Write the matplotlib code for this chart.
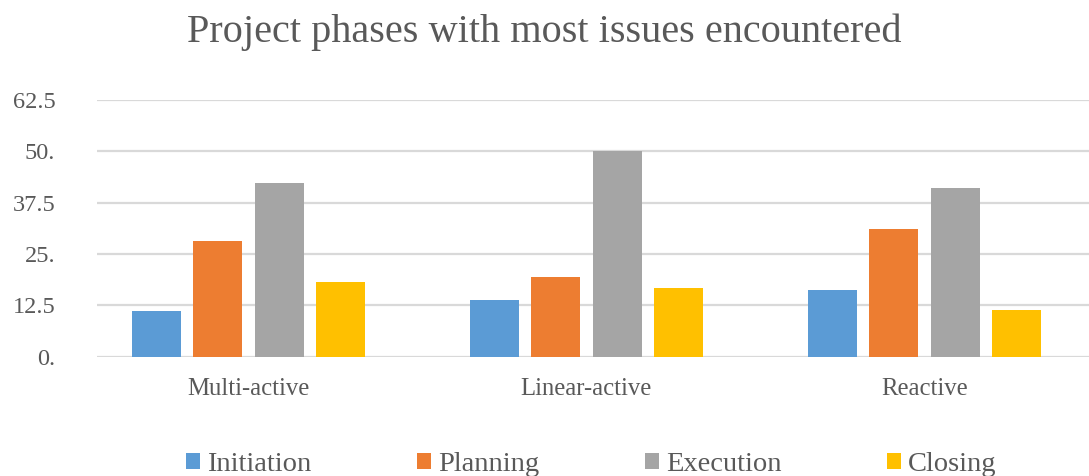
import numpy as np
import matplotlib.pyplot as plt

# Data
groups = ["Multi-active", "Linear-active", "Reactive"]
phases = ["Initiation", "Planning", "Execution", "Closing"]
initiation = [11.2, 13.8, 16.3]
planning = [28.2, 19.4, 31.2]
execution = [42.4, 50.0, 41.0]
closing = [18.3, 16.7, 11.4]
series = [initiation, planning, execution, closing]
colors = ["#5b9bd5", "#ed7d31", "#a5a5a5", "#ffc000"]

yticks = [0, 12.5, 25, 37.5, 50, 62.5]
ytick_labels = ["0.", "12.5", "25.", "37.5", "50.", "62.5"]

plt.rcParams["font.family"] = ["Liberation Serif", "DejaVu Serif"]
text_color = "#595959"

fig = plt.figure(figsize=(10.89, 4.76), dpi=100)
ax = fig.add_axes([0.089, 0.2506, 0.911, 0.539])

x = np.arange(len(groups))
width = 0.145
step = 0.182
for i, (vals, c, name) in enumerate(zip(series, colors, phases)):
    ax.bar(x + (i - 1.5) * step, vals, width, color=c, label=name, zorder=3)

ax.set_xlim(-0.448, 2.487)
ax.set_ylim(0, 62.5)
ax.set_yticks(yticks)
ax.set_yticklabels(ytick_labels)
ax.set_xticks(x)
ax.set_xticklabels(groups)
ax.grid(axis="y", color="#d9d9d9", linewidth=1.6, zorder=0)
ax.tick_params(axis="y", length=0, pad=30, labelsize=17.5, labelcolor=text_color)
ax.tick_params(axis="x", length=0, pad=15, labelsize=17.8, labelcolor=text_color)
for s in ax.spines.values():
    s.set_visible(False)
ax.set_axisbelow(True)

fig.suptitle("Project phases with most issues encountered", y=0.972, fontsize=29,
             color=text_color)

fig.legend(loc="center", bbox_to_anchor=(0.543, 0.024), ncol=4, frameon=False,
           fontsize=20.5, labelcolor=text_color, handlelength=0.5, handleheight=0.5,
           handletextpad=0.25, columnspacing=3.7)

fig.savefig("out.png", dpi=100)
